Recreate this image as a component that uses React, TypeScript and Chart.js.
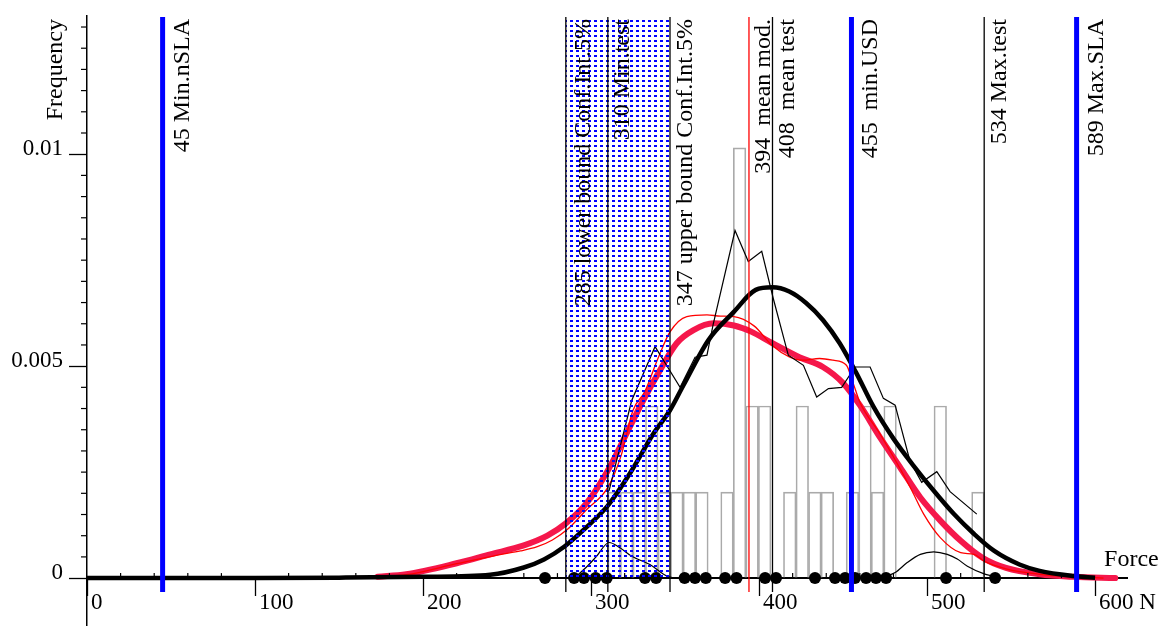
import React, { useEffect, useRef } from "react";
import { Chart, registerables } from "chart.js";

Chart.register(...registerables);

// ---------- axes ----------
const xTickValues = [0, 100, 200, 300, 400, 500, 600];
const yTickValues = [0, 0.005, 0.01];
const X_MIN = 0;
const X_MAX = 619;
const Y_MIN = -0.00113;
const Y_MAX = 0.01326;
const xMinorStep = 20;
const yMinorStep = 0.0005;

// ---------- histogram of test results ----------
const histMin = 310;
const histMax = 534;
const histFreq = [
  0.00203, 0.00203, 0.00203, 0.00406, 0.00203, 0.00203, 0.00203, 0.00203, 0, 0.00203,
  0.01015, 0.00406, 0.00406, 0, 0.00203, 0.00406, 0.00203, 0.00203, 0, 0.00203,
  0.00406, 0.00203, 0.00406, 0, 0, 0, 0.00406, 0, 0, 0.00203,
];

// ---------- sample points on the axis ----------
const sampleDots = [
  272.6, 289.9, 295.8, 302.7, 309.3, 332.1, 338.7, 355.7, 361.9, 368.3, 379.8, 386.6,
  403.6, 410.1, 433.3, 445.2, 451.2, 457.1, 463.7, 469.6, 475.6, 511.3, 540.5,
];

// ---------- thick black: fitted normal of test ----------
const normX = [0, 100, 150, 200, 240, 260, 272, 284, 297, 310, 323, 337, 347, 355, 370, 385, 398, 408, 418, 428, 438, 448, 458, 468, 480, 492, 504, 516, 528, 540, 555, 567, 587, 600];
const normY = [0, 0, 0.00001, 0.00003, 0.00008, 0.00025, 0.00044, 0.00074, 0.00119, 0.00171, 0.00246, 0.0034, 0.00396, 0.00455, 0.00562, 0.00628, 0.0068, 0.00686, 0.00676, 0.00649, 0.00609, 0.00554, 0.00483, 0.00405, 0.00329, 0.00265, 0.00206, 0.00151, 0.00104, 0.00064, 0.00032, 0.00017, 0.00005, 0.00001];

// ---------- thick red: model density ----------
const modX = [173, 190, 220, 240, 260, 274, 285, 297, 310, 323, 331, 341, 351, 361, 373, 385, 395, 408, 424, 438, 450, 460, 472, 484, 496, 508, 520, 533, 547, 567, 587, 612];
const modY = [0.00003, 0.00009, 0.00035, 0.00056, 0.00077, 0.001, 0.00129, 0.00175, 0.00254, 0.00356, 0.00419, 0.0049, 0.00554, 0.00585, 0.00601, 0.00596, 0.00582, 0.00554, 0.00521, 0.00498, 0.0046, 0.00408, 0.00332, 0.00261, 0.0019, 0.00135, 0.00088, 0.00048, 0.00024, 0.00009, 0.00003, 0];

// ---------- thin red: raw model density ----------
const modRawX = [173, 190, 220, 245, 258, 268, 277, 286, 297, 310, 318, 325, 332, 340, 347, 357, 369, 377, 385, 397, 408, 418, 426, 436, 444, 452, 456, 460, 472, 484, 491, 498, 508, 520, 528, 534, 547, 567, 587, 605];
const modRawY = [0.00003, 0.00008, 0.00034, 0.00055, 0.00064, 0.00074, 0.0009, 0.00115, 0.0016, 0.00214, 0.0029, 0.00396, 0.0044, 0.0052, 0.00581, 0.00617, 0.00621, 0.00618, 0.00617, 0.00595, 0.00548, 0.00522, 0.00514, 0.00518, 0.00514, 0.00502, 0.0046, 0.00415, 0.0034, 0.00258, 0.00206, 0.00151, 0.00095, 0.0006, 0.00056, 0.0004, 0.00022, 0.00009, 0.00003, 0];

// ---------- thin black: frequency polygon of test ----------
const polyX = [310.7, 324.2, 338.1, 353.0, 361.9, 369.0, 372.6, 385.7, 393.6, 401.6, 408.5, 417.4, 426.4, 434.3, 441.3, 449.2, 457.1, 466.1, 474.0, 481.0, 489.9, 496.8, 505.8, 513.7, 529.6];
const polyY = [0.00206, 0.00419, 0.00546, 0.0045, 0.00521, 0.00526, 0.00597, 0.0082, 0.00747, 0.00771, 0.00659, 0.00526, 0.00502, 0.00427, 0.00447, 0.0045, 0.00498, 0.00498, 0.00424, 0.00408, 0.00275, 0.00226, 0.00251, 0.00204, 0.00151];

// ---------- thin black bumps near the axis ----------
const bumpAX = [289.9, 297, 303, 310.8, 317, 324, 335, 345, 350];
const bumpAY = [0, 0.00025, 0.0005, 0.00084, 0.00072, 0.00052, 0.00032, 0.00005, 0];
const bumpBX = [474, 481, 488, 496, 504, 512, 518, 524, 534, 539];
const bumpBY = [0.00002, 0.00013, 0.00036, 0.00056, 0.00062, 0.00056, 0.00045, 0.00028, 0.0001, 0.00005];

// ---------- reference lines ----------
const bandBounds = [285, 347];
const bandLabels = ["285 lower bound Conf.Int.5%", "347 upper bound Conf.Int.5%"];
const markerValues = [45, 310, 394, 408, 455, 534, 589];
const markerLabels = ["45 Min.nSLA", "310 Min.test", "394  mean mod.", "408  mean test", "455  min.USD", "534 Max.test", "589 Max.SLA"];
const markerKinds = ["sla", "test", "model", "test", "sla", "test", "sla"];

const yTitle = "Frequency";
const xTitle = "Force";

const FONT = "'Liberation Serif', 'Times New Roman', serif";
const KIND_STYLE: Record<string, { color: string; width: number; offset: number }> = {
  sla: { color: "#0000ff", width: 5, offset: 26 },
  test: { color: "#000000", width: 1.3, offset: 21.5 },
  model: { color: "#ff0000", width: 1.3, offset: 21.5 },
  band: { color: "#000000", width: 1.3, offset: 24 },
};

const zip = (xs: number[], ys: number[]) => xs.map((x, i) => ({ x, y: ys[i] }));

export default function App() {
  const ref = useRef<HTMLCanvasElement | null>(null);

  useEffect(() => {
    const canvas = ref.current;
    if (!canvas) return;
    const ctx0 = canvas.getContext("2d")!;

    const tile = document.createElement("canvas");
    tile.width = 6;
    tile.height = 5;
    const tctx = tile.getContext("2d")!;
    tctx.fillStyle = "#0000ff";
    tctx.fillRect(0, 0, 3, 2);
    const pattern = ctx0.createPattern(tile, "repeat");

    const binW = (histMax - histMin) / histFreq.length;
    const histData = histFreq.map((f, i) => ({ x: histMin + binW * (i + 0.5), y: f }));

    const overlay = {
      id: "overlay",
      afterDatasetsDraw(chart: any) {
        const ctx = chart.ctx as CanvasRenderingContext2D;
        const xs = chart.scales.x;
        const ys = chart.scales.y;
        const top = ys.getPixelForValue(Y_MAX) + 1;
        const y0 = ys.getPixelForValue(0);
        const below = y0 + 14;
        ctx.save();

        // confidence band
        const bx0 = xs.getPixelForValue(bandBounds[0]);
        const bx1 = xs.getPixelForValue(bandBounds[1]);
        if (pattern) {
          ctx.fillStyle = pattern;
          ctx.fillRect(bx0, top, bx1 - bx0, y0 - top);
        }
        const bandStyle = KIND_STYLE.band;
        bandBounds.forEach((v) => {
          const px = xs.getPixelForValue(v);
          ctx.strokeStyle = bandStyle.color;
          ctx.lineWidth = bandStyle.width;
          ctx.beginPath();
          ctx.moveTo(px, top);
          ctx.lineTo(px, below);
          ctx.stroke();
        });

        // vertical markers
        markerValues.forEach((v, i) => {
          const st = KIND_STYLE[markerKinds[i]];
          const px = xs.getPixelForValue(v);
          ctx.strokeStyle = st.color;
          ctx.lineWidth = st.width;
          ctx.beginPath();
          ctx.moveTo(px, top);
          ctx.lineTo(px, below);
          ctx.stroke();
        });

        // minor ticks
        ctx.strokeStyle = "#000";
        ctx.lineWidth = 1.2;
        for (let v = X_MIN + xMinorStep; v < X_MAX; v += xMinorStep) {
          if (Math.abs(v % 100) < 1e-6) continue;
          const px = xs.getPixelForValue(v);
          ctx.beginPath();
          ctx.moveTo(px, y0);
          ctx.lineTo(px, y0 - 5);
          ctx.stroke();
        }
        const left = chart.chartArea.left;
        for (let v = 0; v < Y_MAX; v += yMinorStep) {
          const r = v / 0.005;
          if (Math.abs(r - Math.round(r)) < 1e-6) continue;
          const py = ys.getPixelForValue(v);
          ctx.beginPath();
          ctx.moveTo(left, py);
          ctx.lineTo(left - 6, py);
          ctx.stroke();
        }

        // rotated labels
        ctx.fillStyle = "#000";
        ctx.font = `24px ${FONT}`;
        const rot = (text: string, x: number, y: number) => {
          ctx.save();
          ctx.translate(x, y);
          ctx.rotate(-Math.PI / 2);
          ctx.textAlign = "right";
          ctx.textBaseline = "alphabetic";
          ctx.fillText(text, 0, 0);
          ctx.restore();
        };
        bandBounds.forEach((v, i) => {
          const px = xs.getPixelForValue(v);
          rot(bandLabels[i], px + (i === 0 ? bandStyle.offset : KIND_STYLE.test.offset), top + 2);
        });
        markerValues.forEach((v, i) => {
          const st = KIND_STYLE[markerKinds[i]];
          rot(markerLabels[i], xs.getPixelForValue(v) + st.offset, top + 2);
        });
        rot(yTitle, left - 25, top + 2);

        ctx.textAlign = "left";
        ctx.textBaseline = "alphabetic";
        ctx.fillText(xTitle, xs.getPixelForValue(600) + 9, y0 - 12);
        ctx.restore();
      },
    };

    const chart = new Chart(canvas, {
      data: {
        datasets: [
          {
            type: "scatter",
            data: sampleDots.map((x) => ({ x, y: 0 })),
            pointRadius: 6,
            pointBackgroundColor: "#000",
            pointBorderColor: "#000",
            pointBorderWidth: 0,
            showLine: false,
          },
          {
            type: "line",
            data: zip(polyX, polyY),
            borderColor: "#000",
            borderWidth: 1.2,
            pointRadius: 0,
            tension: 0,
            fill: false,
          },
          {
            type: "line",
            data: zip(bumpAX, bumpAY),
            borderColor: "#000",
            borderWidth: 1.2,
            pointRadius: 0,
            cubicInterpolationMode: "monotone",
            fill: false,
          },
          {
            type: "line",
            data: zip(bumpBX, bumpBY),
            borderColor: "#000",
            borderWidth: 1.2,
            pointRadius: 0,
            cubicInterpolationMode: "monotone",
            fill: false,
          },
          {
            type: "line",
            data: zip(normX, normY),
            borderColor: "#000",
            borderWidth: 4.5,
            pointRadius: 0,
            cubicInterpolationMode: "monotone",
            fill: false,
          },
          {
            type: "line",
            data: zip(modRawX, modRawY),
            borderColor: "#ff0000",
            borderWidth: 1.3,
            pointRadius: 0,
            cubicInterpolationMode: "monotone",
            fill: false,
          },
          {
            type: "line",
            data: zip(modX, modY),
            borderColor: "#f5174b",
            borderWidth: 6,
            pointRadius: 0,
            cubicInterpolationMode: "monotone",
            borderCapStyle: "round",
            fill: false,
          },
          {
            type: "bar",
            data: histData,
            backgroundColor: "rgba(0,0,0,0)",
            borderColor: "#aaaaaa",
            borderWidth: 1,
            barPercentage: 1,
            categoryPercentage: 1,
            grouped: false,
          },
        ],
      } as any,
      options: {
        responsive: false,
        animation: false,
        devicePixelRatio: 1,
        layout: { autoPadding: false, padding: { top: 16, right: 33, bottom: 0, left: 0 } },
        plugins: { legend: { display: false }, tooltip: { enabled: false } },
        scales: {
          x: {
            type: "linear",
            min: X_MIN,
            max: X_MAX,
            offset: false,
            position: { y: 0 } as any,
            afterBuildTicks: (s: any) => {
              s.ticks = xTickValues.map((v) => ({ value: v }));
            },
            afterFit: (s: any) => {
              s.paddingLeft = 0;
              s.paddingRight = 0;
              s.paddingTop = 0;
              s.paddingBottom = 0;
            },
            grid: { offset: false, drawOnChartArea: false, drawTicks: true, tickLength: 17, tickColor: "#000", tickWidth: 1.3 },
            border: { display: true, color: "#000", width: 2 },
            ticks: {
              autoSkip: false,
              maxRotation: 0,
              align: "start",
              labelOffset: 4,
              padding: -6,
              color: "#000",
              font: { family: FONT, size: 23 },
              callback: (v: any) => (v === 600 ? "600 N" : String(v)),
            },
          },
          y: {
            type: "linear",
            min: Y_MIN,
            max: Y_MAX,
            position: "left",
            afterBuildTicks: (s: any) => {
              s.ticks = yTickValues.map((v) => ({ value: v }));
            },
            afterFit: (s: any) => {
              s.width = 87;
              s.paddingTop = 0;
              s.paddingBottom = 0;
            },
            grid: { drawOnChartArea: false, drawTicks: true, tickLength: 18, tickColor: "#000", tickWidth: 1.3 },
            border: { display: true, color: "#000", width: 1.5 },
            ticks: {
              autoSkip: false,
              padding: 6,
              labelOffset: -5,
              color: "#000",
              font: { family: FONT, size: 23 },
              callback: (v: any) => String(v),
            },
          },
        },
      } as any,
      plugins: [overlay],
    });

    return () => chart.destroy();
  }, []);

  return (
    <div style={{ position: "absolute", left: 0, top: 0, width: 1160, height: 626, background: "#fff" }}>
      <canvas ref={ref} width={1160} height={626} />
    </div>
  );
}
